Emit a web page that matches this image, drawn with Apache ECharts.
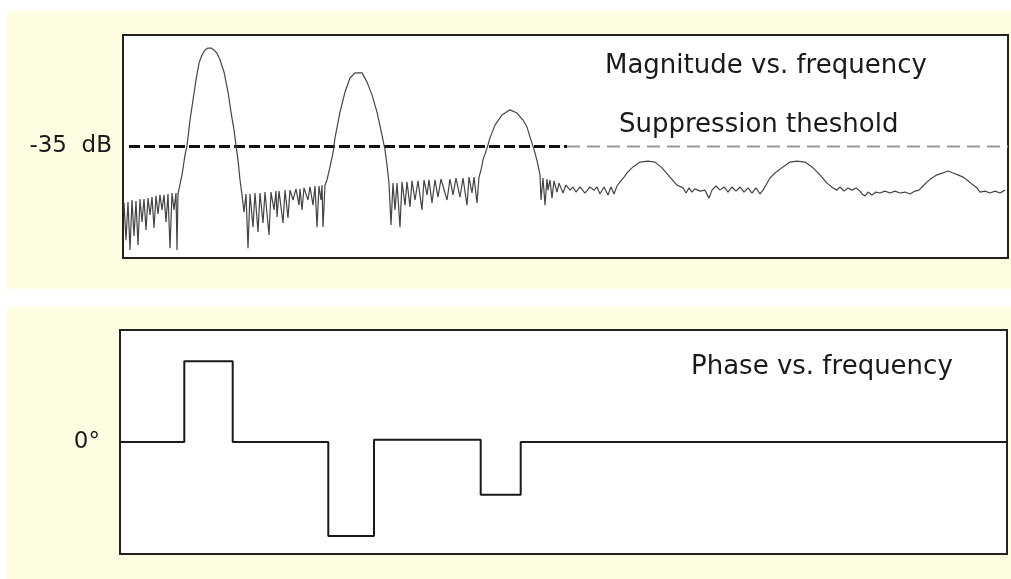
<!DOCTYPE html>
<html>
<head>
<meta charset="utf-8">
<script src="https://cdn.jsdelivr.net/npm/echarts@6/dist/echarts.min.js"></script>
<style>html,body{margin:0;padding:0;background:#fff}#c{width:1011px;height:579px}</style>
</head>
<body>
<div id="c"></div>
<script>
// Frequency axis (arbitrary units), magnitude in dB, phase in arbitrary degrees
const freqMaxTop = 88.5;
const freqMaxBottom = 88.7;
const thresholdDb = -35;
const thresholdSplit = 44.4;
const magnitudeTicks = [-70, -35, 0];
const phaseTicks = [-100, 0, 100];

const magnitude = [
[0.1,-52.7],[0.3,-64.4],[0.5,-52.4],[0.7,-67.5],[0.9,-51.8],[1.1,-63.1],[1.3,-52.1],[1.5,-65.9],
[1.7,-51.5],[1.9,-58.7],[2.1,-51.5],[2.3,-61.2],[2.5,-51.2],[2.7,-56.5],[2.9,-50.9],[3.1,-60.6],
[3.3,-50.5],[3.5,-56.2],[3.7,-50.2],[3.9,-54.9],[4.1,-50.2],[4.3,-58.7],[4.5,-49.9],[4.7,-66.9],
[4.9,-49.6],[5.1,-54.9],[5.3,-49.6],[5.4,-67.5],[5.5,-49.9],[5.7,-49.3],
[5.9,-43.9],[6.2,-37.7],[6.4,-34.8],[6.7,-26.7],[7.0,-20.4],[7.3,-14.1],[7.6,-8.8],[7.9,-6.3],
[8.2,-4.7],[8.5,-4.1],[8.8,-4.1],[9.1,-4.7],[9.4,-5.7],[9.7,-7.8],[10.1,-11.6],[10.5,-17.9],
[10.8,-24.2],[11.1,-29.8],[11.3,-34.8],[11.5,-39.2],[11.7,-45.5],[11.9,-50.2],
[12.1,-55.6],[12.3,-49.9],[12.5,-66.9],[12.7,-49.9],[13.0,-60.3],[13.2,-49.6],[13.5,-61.8],[13.7,-49.6],
[14.0,-59.0],[14.2,-49.3],[14.6,-62.8],[14.8,-49.3],[15.1,-54.9],[15.3,-49.0],[15.4,-57.1],[15.6,-49.0],
[16.0,-59.0],[16.2,-48.7],[16.5,-57.4],[16.7,-48.7],[17.0,-51.8],[17.3,-48.3],[17.6,-53.4],[17.7,-48.3],
[17.9,-54.9],[18.1,-48.0],[18.5,-51.8],[18.7,-47.7],[19.0,-53.4],[19.2,-47.4],[19.4,-60.3],[19.6,-47.4],
[19.8,-51.8],[19.9,-47.1],[20.0,-60.3],[20.2,-47.1],
[20.4,-45.5],[20.7,-41.4],[21.0,-37.0],[21.2,-32.3],[21.7,-24.2],[22.2,-17.9],[22.7,-13.5],[23.2,-11.9],
[23.9,-11.9],[24.4,-14.8],[24.9,-18.8],[25.4,-24.2],[25.9,-31.4],[26.2,-36.1],[26.4,-40.8],[26.6,-46.5],
[26.8,-59.6],[27.0,-46.5],[27.2,-54.9],[27.4,-46.5],[27.7,-60.3],[27.9,-46.1],[28.2,-53.4],[28.4,-46.1],
[28.7,-54.0],[28.9,-45.8],[29.2,-51.8],[29.5,-45.8],[29.9,-54.9],[30.1,-45.5],[30.4,-50.2],[30.6,-45.5],
[30.9,-52.7],[31.2,-45.5],[31.5,-50.9],[31.8,-45.2],[32.4,-51.8],[32.7,-45.2],[33.0,-50.2],[33.3,-44.9],
[33.7,-50.9],[34.0,-44.9],[34.4,-53.4],[34.6,-44.6],[34.9,-49.6],[35.1,-44.6],[35.4,-52.7],[35.6,-44.6],
[35.8,-42.4],[36.0,-39.2],[36.4,-35.5],[36.7,-32.3],[37.2,-28.3],[37.9,-25.1],[38.7,-23.5],[39.4,-24.5],
[40.0,-26.7],[40.4,-28.9],[40.7,-32.0],[41.2,-37.0],[41.5,-40.8],[41.7,-43.9],
[41.8,-51.8],[42.0,-44.9],[42.2,-53.4],[42.4,-45.2],[42.5,-48.7],[42.7,-45.5],[42.9,-51.2],[43.1,-45.8],
[43.4,-49.3],[43.6,-46.5],[44.0,-49.6],[44.3,-47.1],[44.7,-48.7],[45.0,-47.7],[45.3,-49.3],[45.7,-47.7],
[46.2,-49.6],[46.7,-47.7],[47.1,-48.7],[47.4,-47.7],[47.7,-49.9],[48.1,-47.7],[48.5,-50.2],[48.8,-47.7],
[49.1,-49.9],[49.4,-47.4],
[49.7,-46.1],[50.1,-44.6],[50.4,-43.3],[51.0,-41.4],[51.7,-39.9],[52.5,-39.6],[53.2,-39.9],[53.9,-41.7],
[54.7,-44.6],[55.4,-47.1],[56.0,-48.0],
[56.3,-49.6],[56.6,-48.0],[56.9,-49.3],[57.2,-48.3],[57.7,-49.0],[58.2,-48.7],[58.6,-51.2],[58.9,-48.7],
[59.3,-47.4],[59.7,-48.7],[60.1,-47.7],[60.5,-49.3],[60.9,-47.7],[61.3,-49.0],[61.7,-47.7],[62.1,-49.3],
[62.5,-48.0],[62.9,-49.6],[63.3,-48.0],[63.7,-49.9],[64.0,-48.7],
[64.3,-47.1],[64.7,-44.9],[65.2,-43.3],[66.0,-41.4],[66.7,-39.9],[67.4,-39.6],[68.2,-39.9],[69.0,-41.7],
[69.7,-43.9],[70.4,-46.5],[71.0,-48.0],
[71.4,-48.7],[71.7,-47.7],[72.1,-49.0],[72.5,-48.0],[72.9,-48.7],[73.3,-48.0],[73.7,-49.0],[73.9,-49.9],
[74.2,-50.5],[74.5,-49.3],[74.9,-50.2],[75.3,-49.3],[75.7,-49.6],[76.2,-49.0],[76.7,-49.6],[77.2,-49.0],
[77.7,-49.6],[78.2,-49.3],[78.7,-49.9],[79.2,-49.0],[79.6,-48.7],
[80.0,-47.4],[80.4,-46.1],[80.9,-44.9],[81.4,-43.9],[82.0,-43.3],[82.5,-42.7],[83.0,-43.3],[83.5,-43.9],
[84.0,-44.6],[84.4,-45.5],[84.9,-46.8],[85.4,-48.0],[85.7,-49.3],[86.2,-49.0],[86.7,-49.6],[87.2,-49.0],
[87.7,-49.6],[88.2,-48.7]
];

const phase = [
[0,0],[6.43,0],[6.43,72],[11.27,72],[11.27,0],[20.83,0],[20.83,-84],[25.4,-84],[25.4,2],
[36.07,2],[36.07,-47],[40.07,-47],[40.07,0],[88.7,0]
];

const cream = '#fffde1';
const ink = '#1a1a1a';
const font = 'DejaVu Sans';

const chart = echarts.init(document.getElementById('c'), null, {renderer: 'canvas'});
chart.setOption({
  backgroundColor: '#ffffff',
  animation: false,
  graphic: [
    {type: 'rect', z: -100, shape: {x: 7, y: 11, width: 1004, height: 278}, style: {fill: cream}, silent: true},
    {type: 'rect', z: -100, shape: {x: 7, y: 307, width: 1004, height: 272}, style: {fill: cream}, silent: true}
  ],
  title: [
    {text: 'Magnitude vs. frequency', left: 605, top: 53, padding: 0, textStyle: {fontFamily: font, fontSize: 26, fontWeight: 'normal', color: ink}},
    {text: 'Suppression theshold', left: 619, top: 112, padding: 0, textStyle: {fontFamily: font, fontSize: 26, fontWeight: 'normal', color: ink}},
    {text: 'Phase vs. frequency', left: 691, top: 354, padding: 0, textStyle: {fontFamily: font, fontSize: 26, fontWeight: 'normal', color: ink}}
  ],
  grid: [
    {left: 123, top: 35, width: 885, height: 223, show: true, backgroundColor: '#fff', borderColor: '#222', borderWidth: 2, containLabel: false},
    {left: 120, top: 330, width: 887, height: 224, show: true, backgroundColor: '#fff', borderColor: '#222', borderWidth: 2, containLabel: false}
  ],
  xAxis: [
    {gridIndex: 0, type: 'value', min: 0, max: freqMaxTop, show: false},
    {gridIndex: 1, type: 'value', min: 0, max: freqMaxBottom, show: false}
  ],
  yAxis: [
    {gridIndex: 0, type: 'value', min: magnitudeTicks[0], max: magnitudeTicks[2], interval: 35,
     axisLine: {show: false}, axisTick: {show: false}, splitLine: {show: false},
     axisLabel: {margin: 11, fontFamily: font, fontSize: 23, color: ink,
       formatter: v => v === magnitudeTicks[1] ? v + '  dB' : ''}},
    {gridIndex: 1, type: 'value', min: phaseTicks[0], max: phaseTicks[2], interval: 100,
     axisLine: {show: false}, axisTick: {show: false}, splitLine: {show: false},
     axisLabel: {margin: 20, fontFamily: font, fontSize: 23, color: ink,
       formatter: v => v === phaseTicks[1] ? v + '°' : ''}}
  ],
  series: [
    {type: 'line', xAxisIndex: 0, yAxisIndex: 0, data: [[0.6, thresholdDb], [thresholdSplit, thresholdDb]],
     symbol: 'none', lineStyle: {color: '#111', width: 3, type: [11, 4]}, z: 3},
    {type: 'line', xAxisIndex: 0, yAxisIndex: 0, data: [[thresholdSplit, thresholdDb], [freqMaxTop, thresholdDb]],
     symbol: 'none', lineStyle: {color: '#999', width: 2, type: [13, 7]}, z: 3},
    {type: 'line', xAxisIndex: 0, yAxisIndex: 0, data: magnitude, symbol: 'none',
     lineStyle: {color: '#444', width: 1.2}, z: 4},
    {type: 'line', xAxisIndex: 1, yAxisIndex: 1, data: phase, symbol: 'none',
     lineStyle: {color: ink, width: 2}, z: 4}
  ]
});
</script>
</body>
</html>
